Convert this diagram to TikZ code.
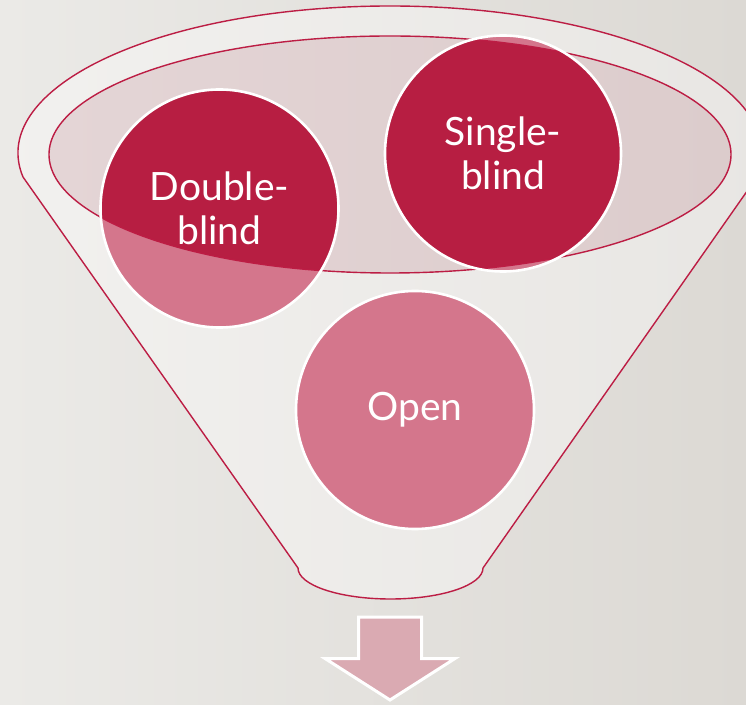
\documentclass[tikz,border=0pt]{standalone}
\usepackage{fontspec}
\setmainfont{Lato}
\definecolor{bgA}{HTML}{EBEAE7}
\definecolor{bgB}{HTML}{DCD9D4}
\definecolor{funA}{HTML}{F2F1EF}
\definecolor{funB}{HTML}{E8E6E3}
\definecolor{rimred}{HTML}{BC1D44}
\definecolor{darkred}{HTML}{B71E42}
\definecolor{lightred}{HTML}{D4768C}
\definecolor{ellA}{HTML}{E4D5D6}
\definecolor{ellB}{HTML}{DCCCCC}
\definecolor{arrowpink}{HTML}{DAAAB2}
\tikzset{
  bubble/.style={circle, inner sep=0pt, minimum size=#1, text=white,
    font=\fontsize{39pt}{44pt}\selectfont, align=center},
  rim/.style={draw=rimred, line width=1.4pt},
}
\begin{document}
\begin{tikzpicture}[x=1pt,y=1pt]
\useasboundingbox (0,0) rectangle (746,704);
% background
\shade[left color=bgA, right color=bgB] (0,0) rectangle (746,704);
% funnel body
\path[rim, left color=funA, right color=funB]
  (23,527) arc[start angle=189.4, end angle=-9.4, x radius=372, y radius=147]
  -- (483,136) arc[start angle=0, end angle=-180, x radius=92.5, y radius=31]
  -- cycle;
% inner ellipse
\shade[left color=ellA, right color=ellB] (390,549.5) ellipse [x radius=341, y radius=118.5];
% circles: light base
\coordinate (cdb) at (219.5,495.5);
\coordinate (csb) at (503,550.5);
\coordinate (cop) at (415,294);
\fill[lightred] (cdb) circle (119);
\fill[lightred] (csb) circle (118);
\fill[lightred] (cop) circle (119);
% dark parts inside the ellipse
\begin{scope}
  \clip (390,549.5) ellipse [x radius=341, y radius=118.5];
  \fill[darkred] (cdb) circle (119);
  \fill[darkred] (csb) circle (118);
\end{scope}
% ellipse outline
\draw[rim] (390,549.5) ellipse [x radius=341, y radius=118.5];
% white borders
\draw[white, line width=2.6pt] (cdb) circle (119);
\draw[white, line width=2.6pt] (csb) circle (118);
\draw[white, line width=2.6pt] (cop) circle (119);
% labels
\node[bubble=236pt] (db) at (cdb) {Double-\\blind};
\node[bubble=234pt] (sb) at (csb) {Single-\\blind};
\node[bubble=236pt] (op) at (cop) {Open};
% arrow
\path[fill=arrowpink, draw=white, line width=3pt, line join=miter]
  (358.5,87) -- (421.5,87) -- (421.5,45.5) -- (455,45.5) -- (390,4)
  -- (325,45.5) -- (358.5,45.5) -- cycle;
\end{tikzpicture}
\end{document}
